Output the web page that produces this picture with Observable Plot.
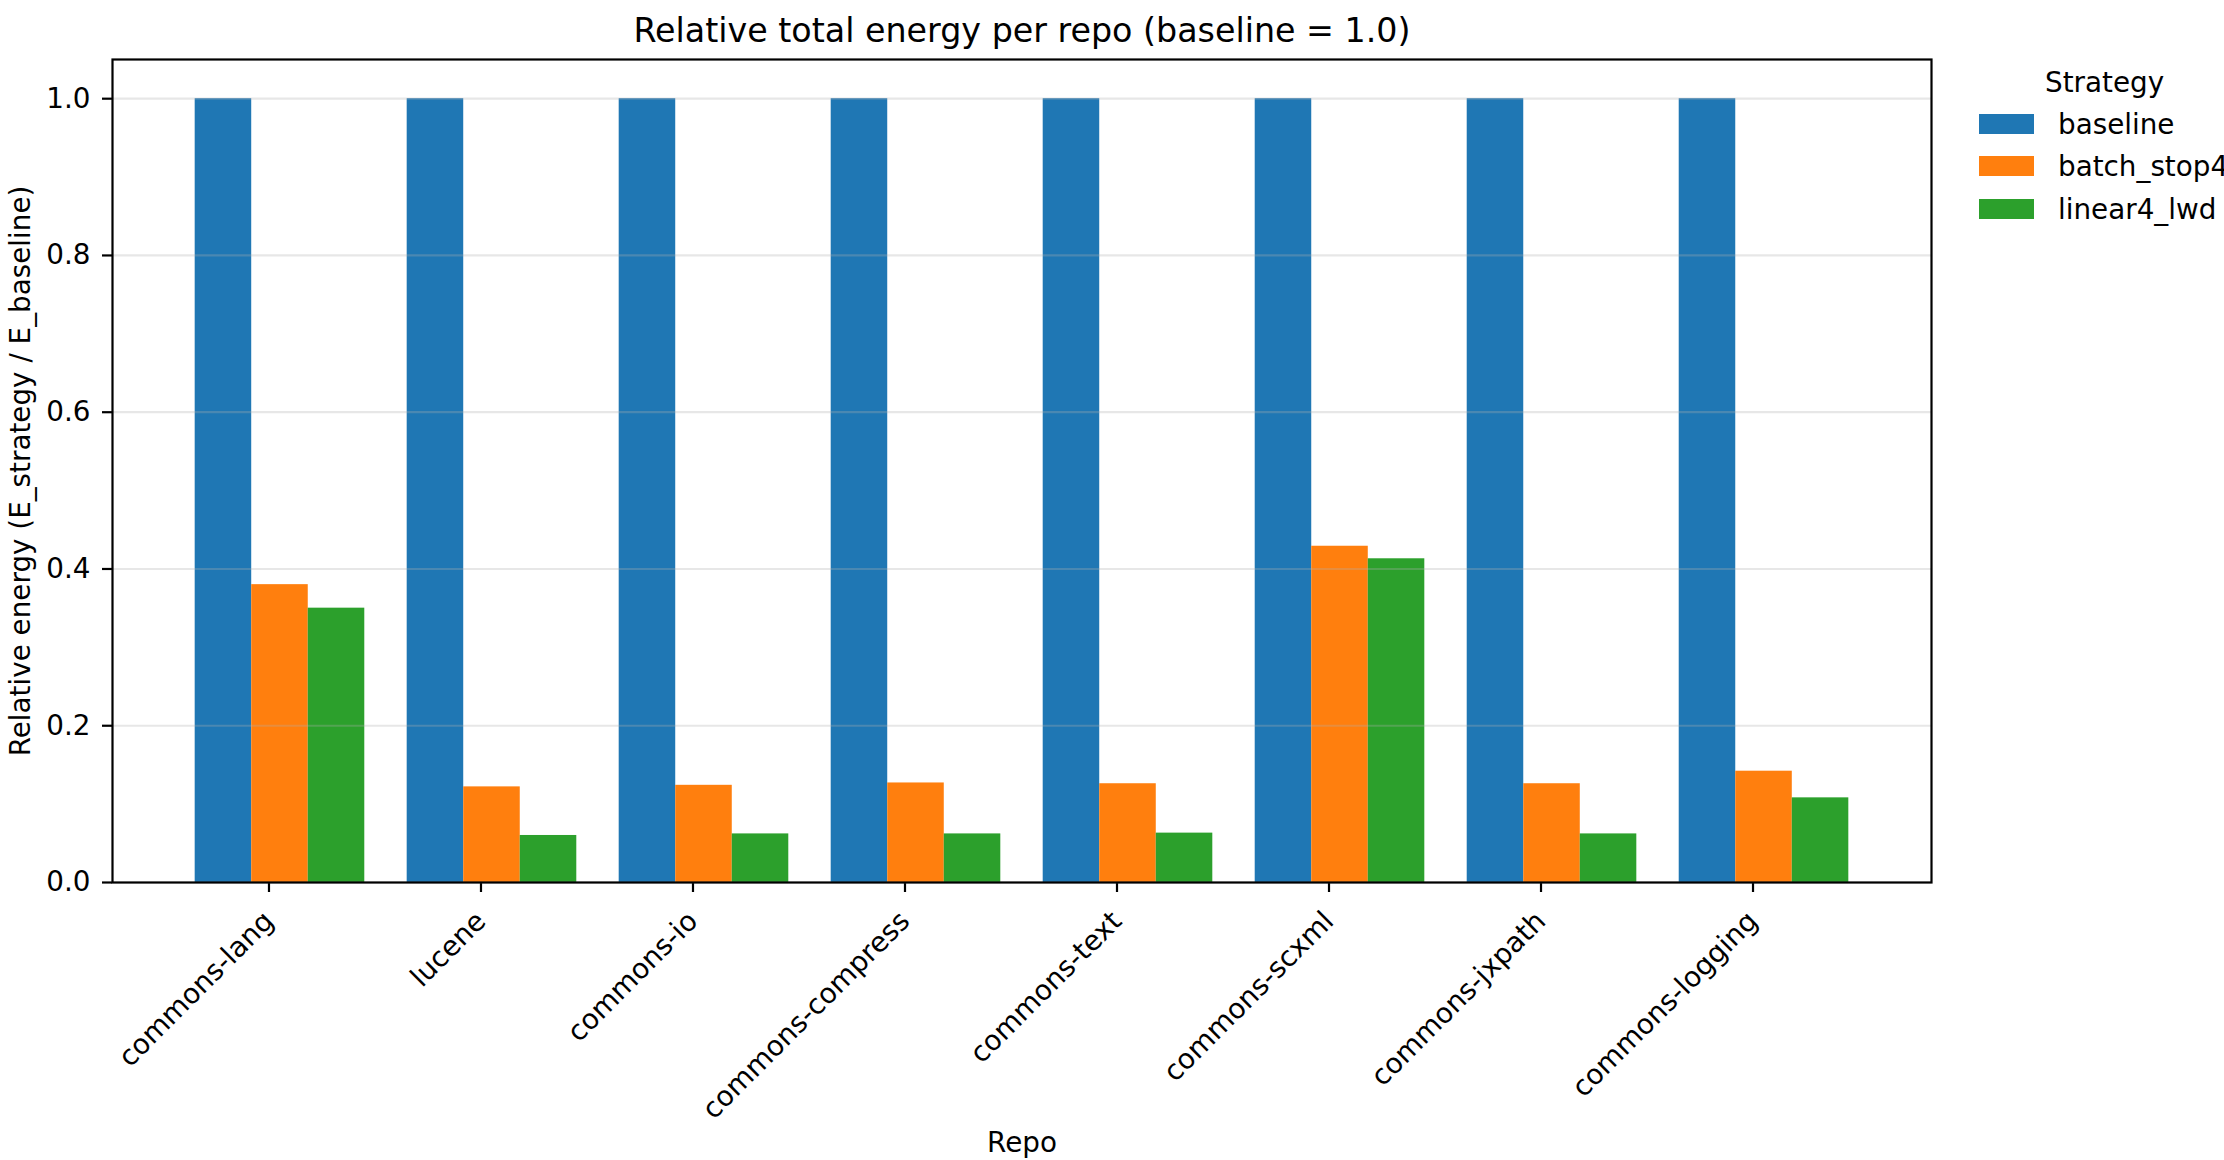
<!DOCTYPE html>
<html>
<head>
<meta charset="utf-8">
<script src="https://cdn.jsdelivr.net/npm/d3@7"></script>
<script src="https://cdn.jsdelivr.net/npm/@observablehq/plot@0.6"></script>
<style>
  html, body { margin: 0; padding: 0; background: white; }
  #wrap { position: relative; width: 2224px; height: 1160px; overflow: hidden; font-family: "DejaVu Sans", sans-serif; background: white; }
  #wrap svg { position: absolute; left: 0; top: 0; }
  #legend { position: absolute; left: 0; top: 0; font-family: "DejaVu Sans", sans-serif; font-size: 27.8px; color: #000; }
  #legend .title { position: absolute; left: 2045px; top: 64px; white-space: nowrap; line-height: 38px; }
  #legend .item { position: absolute; left: 1979px; white-space: nowrap; display: flex; align-items: center; height: 40px; }
  #legend .sw { width: 55px; height: 20px; margin-right: 24px; }
</style>
</head>
<body>
<div id="wrap"></div>
<script>
const repos = ["commons-lang", "lucene", "commons-io", "commons-compress", "commons-text", "commons-scxml", "commons-jxpath", "commons-logging"];
const strategies = ["baseline", "batch_stop4", "linear4_lwd"];
const baseline    = [1.0, 1.0, 1.0, 1.0, 1.0, 1.0, 1.0, 1.0];
const batchStop4  = [0.380, 0.122, 0.124, 0.127, 0.126, 0.429, 0.126, 0.142];
const linear4Lwd  = [0.350, 0.060, 0.062, 0.062, 0.063, 0.413, 0.062, 0.108];
const yTicks = [0, 0.2, 0.4, 0.6, 0.8, 1.0];
const colors = ["#1f77b4", "#ff7f0e", "#2ca02c"];
const titleText = "Relative total energy per repo (baseline = 1.0)";
const xLabel = "Repo";
const yLabel = "Relative energy (E_strategy / E_baseline)";

const series = [baseline, batchStop4, linear4Lwd];
const data = [];
repos.forEach((r, i) => strategies.forEach((s, j) => data.push({repo: r, strategy: s, value: series[j][i]})));

const fs = 27.8;
const common = {
  width: 2224,
  height: 1160,
  marginLeft: 112,
  marginRight: 293,
  marginTop: 59,
  marginBottom: 278,
  y: {domain: [0, 1.05], label: null}
};

// Layer 1: grouped bars + repo axis (faceted)
const barsPlot = Plot.plot({
  ...common,
  style: {fontFamily: "DejaVu Sans", fontSize: fs + "px", background: "white", color: "black"},
  fx: {domain: repos, paddingInner: 0.2, paddingOuter: 0.39, round: false, label: null},
  x: {domain: strategies, padding: 0, axis: null, round: false},
  color: {domain: strategies, range: colors},
  marks: [
    Plot.barY(data, {fx: "repo", x: "strategy", y: "value", fill: "strategy"}),
    Plot.axisY({ticks: []}),
    Plot.axisFx({anchor: "bottom", tickRotate: -45, tickSize: 10, tickPadding: 24, dx: -11, strokeWidth: 2.2, fontSize: fs, label: null})
  ]
});

// Layer 2: grid, frame, y axis, title and labels (same frame, unfaceted)
const overlay = Plot.plot({
  ...common,
  style: {fontFamily: "DejaVu Sans", fontSize: fs + "px", background: "transparent", color: "black", pointerEvents: "none"},
  marks: [
    Plot.gridY(yTicks, {stroke: "#b0b0b0", strokeOpacity: 0.3, strokeWidth: 2.2}),
    Plot.axisY(yTicks, {tickFormat: d3.format(".1f"), tickSize: 10, tickPadding: 12, strokeWidth: 2.2, fontSize: fs, label: null}),
    Plot.frame({stroke: "black", strokeWidth: 2.2}),
    Plot.text([titleText], {frameAnchor: "top", lineAnchor: "middle", textAnchor: "middle", dy: -27.7, fontSize: 33.3, fill: "black"}),
    Plot.text([xLabel], {frameAnchor: "bottom", lineAnchor: "middle", textAnchor: "middle", dy: 261, fontSize: fs, fill: "black"}),
    Plot.text([yLabel], {frameAnchor: "left", lineAnchor: "middle", textAnchor: "middle", dx: -91, rotate: -90, fontSize: fs, fill: "black"})
  ]
});

const wrap = document.getElementById("wrap");
wrap.appendChild(barsPlot);
wrap.appendChild(overlay);

const color = barsPlot.scale("color");
const legend = document.createElement("div");
legend.id = "legend";
const t = document.createElement("div");
t.className = "title";
t.textContent = "Strategy";
legend.appendChild(t);
const itemTops = [104, 146, 189];
strategies.forEach((s, i) => {
  const it = document.createElement("div");
  it.className = "item";
  it.style.top = itemTops[i] + "px";
  const sw = document.createElement("div");
  sw.className = "sw";
  sw.style.background = color.apply(s);
  const lab = document.createElement("span");
  lab.textContent = s;
  it.appendChild(sw);
  it.appendChild(lab);
  legend.appendChild(it);
});
wrap.appendChild(legend);
</script>
</body>
</html>
